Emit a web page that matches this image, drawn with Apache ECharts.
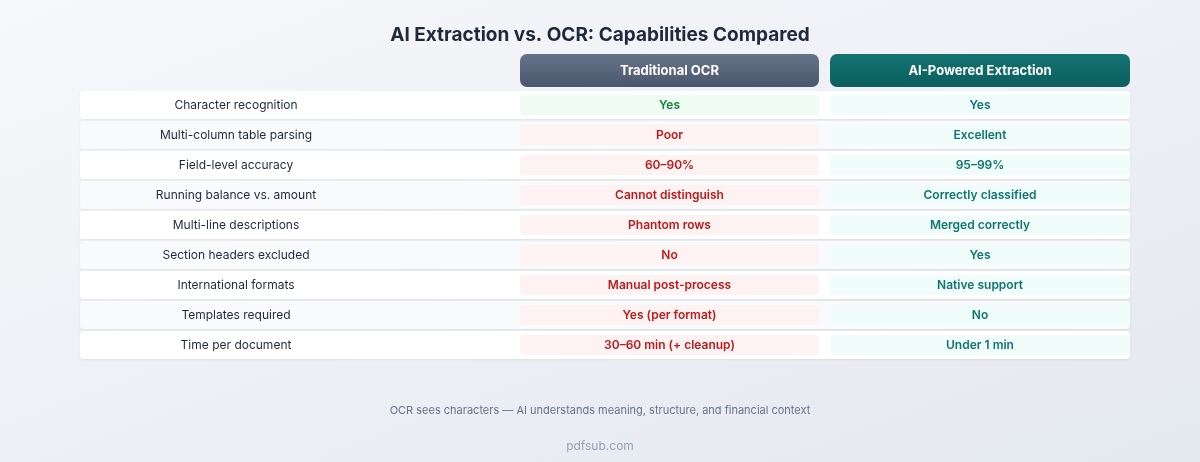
<!DOCTYPE html><html><head><meta charset="utf-8"><script src="https://cdn.jsdelivr.net/npm/echarts@6/dist/echarts.min.js"></script>
<style>html,body{margin:0;padding:0;}#c{width:1200px;height:462px;background:linear-gradient(160deg,#f7f8fb,#e4e8ef);}</style></head><body><div id="c"></div><script>
const features=["Character recognition","Multi-column table parsing","Field-level accuracy","Running balance vs. amount","Multi-line descriptions","Section headers excluded","International formats","Templates required","Time per document"];
const ocrValues=["Yes","Poor","60–90%","Cannot distinguish","Phantom rows","No","Manual post-process","Yes (per format)","30–60 min (+ cleanup)"];
const ocrGood=[true,false,false,false,false,false,false,false,false];
const aiValues=["Yes","Excellent","95–99%","Correctly classified","Merged correctly","Yes","Native support","No","Under 1 min"];
const columns=["Traditional OCR","AI-Powered Extraction"];
const F='Inter, "Noto Sans", sans-serif';
const chart=echarts.init(document.getElementById('c'));
chart.setOption({
 title:{text:"AI Extraction vs. OCR: Capabilities Compared",left:'center',top:21,textStyle:{fontFamily:F,fontSize:19,fontWeight:'bold',color:'#1e293b'}},
 grid:{left:80,width:1050,top:90,height:270},
 xAxis:{type:'value',min:0,max:1050,show:false},
 yAxis:{type:'category',data:features,inverse:true,show:false},
 graphic:[
  {type:'rect',shape:{x:520,y:54,width:299,height:33,r:7},style:{fill:new echarts.graphic.LinearGradient(0,0,0,1,[{offset:0,color:'#667489'},{offset:1,color:'#4a566b'}])}},
  {type:'text',x:669.5,y:71.5,style:{text:columns[0],align:'center',verticalAlign:'middle',fill:'#fff',font:'bold 13px '+F}},
  {type:'rect',shape:{x:830,y:54,width:300,height:33,r:7},style:{fill:new echarts.graphic.LinearGradient(0,0,0,1,[{offset:0,color:'#137371'},{offset:1,color:'#0b5f5d'}])}},
  {type:'text',x:980,y:71.5,style:{text:columns[1],align:'center',verticalAlign:'middle',fill:'#fff',font:'bold 13px '+F}},
  {type:'text',x:600,y:411,style:{text:"OCR sees characters — AI understands meaning, structure, and financial context",align:'center',verticalAlign:'middle',fill:'#64748b',font:'11px '+F}},
  {type:'text',x:600,y:446,style:{text:"pdfsub.com",align:'center',verticalAlign:'middle',fill:'#94a3b8',font:'12px '+F}}
 ],
 series:[{type:'custom',data:features.map((f,i)=>[0,i]),renderItem:(p,api)=>{
  const i=api.value(1);const c=api.coord([0,i]);const y=c[1];const h=28;
  const x=v=>api.coord([v,i])[0];
  const good=ocrGood[i];
  return {type:'group',children:[
   {type:'rect',shape:{x:x(0),y:y-h/2,width:x(1050)-x(0),height:h,r:4},style:{fill:i%2?'#f8fafc':'#ffffff',shadowBlur:2,shadowColor:'rgba(0,0,0,0.06)',shadowOffsetY:1}},
   {type:'text',x:x(156),y:y,style:{text:features[i],align:'center',verticalAlign:'middle',fill:'#1e293b',font:'12px '+F}},
   {type:'rect',shape:{x:x(440),y:y-10,width:x(739)-x(440),height:20,r:4},style:{fill:good?'#effcf3':'#fef2f2'}},
   {type:'text',x:x(589.5),y:y,style:{text:ocrValues[i],align:'center',verticalAlign:'middle',fill:good?'#15803d':'#b91c1c',font:'600 12px '+F}},
   {type:'rect',shape:{x:x(750),y:y-10,width:x(1050)-x(750),height:20,r:4},style:{fill:'#f0fdfa'}},
   {type:'text',x:x(900),y:y,style:{text:aiValues[i],align:'center',verticalAlign:'middle',fill:'#0f766e',font:'600 12px '+F}}
  ]};
 }}]
});
</script></body></html>
